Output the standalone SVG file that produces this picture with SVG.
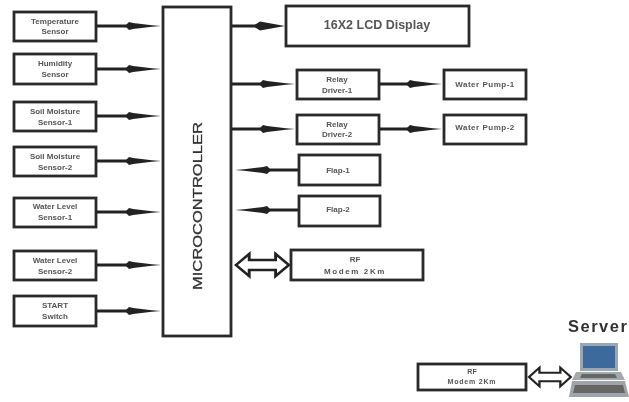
<svg xmlns="http://www.w3.org/2000/svg" width="629" height="402" viewBox="0 0 629 402">
<style>
.b{fill:#fff;stroke:#2a2a2a;stroke-width:2.8}
.t{font-family:"Liberation Sans",Arial,sans-serif;font-size:8px;font-weight:bold;fill:#555;text-anchor:middle}
.l{stroke:#222;stroke-width:3;fill:none}
.h{fill:#222;stroke:none}
.d{fill:#fff;stroke:#222;stroke-width:2.400}
</style>
<defs>
<filter id="s" x="-5%" y="-5%" width="110%" height="110%"><feGaussianBlur stdDeviation="0.55"/></filter>
<path id="ar" class="h" d="M-9 0L-5-4L-1-3L18-.8L27 0L18 .8L-1 3L-5 4Z"/>
<path id="ma" d="M0 0L11-11V-5H33V-11L44 0L33 11V5H11V11Z"/>
</defs>
<rect width="629" height="402" fill="#fff"/>
<g filter="url(#s)">
<g id="connectors">
<path class="l" d="M96 26H135M96 69H135M96 116H135M96 161H135M96 212H135M96 265H135M96 311H135M231 26H262M231 84H262M231 129H262M379 84H415M379 129H415M299 170H262M299 210H262"/>
<use href="#ar" x="134" y="26"/><use href="#ar" x="134" y="69"/><use href="#ar" x="134" y="116"/><use href="#ar" x="134" y="161"/><use href="#ar" x="134" y="212"/><use href="#ar" x="134" y="265"/><use href="#ar" x="134" y="311"/>
<path class="h" d="M253 26L260 21.500L285 26L260 30.500Z"/>
<use href="#ar" x="268" y="84"/><use href="#ar" x="268" y="129"/><use href="#ar" x="415" y="84"/><use href="#ar" x="415" y="129"/>
<use href="#ar" transform="translate(262 170) scale(-1 1)"/><use href="#ar" transform="translate(262 210) scale(-1 1)"/>
<use href="#ma" class="d" transform="translate(236 265) scale(1.2 1)"/>
<use href="#ma" class="d" transform="translate(529 377) scale(.95 .85)"/>
</g>
<g id="temperature"><rect class="b" x="14" y="12" width="82" height="29"/><text class="t" x="55" y="24">Temperature</text><text class="t" x="55" y="34">Sensor</text></g>
<g id="humidity"><rect class="b" x="14" y="54" width="82" height="30"/><text class="t" x="55" y="66">Humidity</text><text class="t" x="55" y="77">Sensor</text></g>
<g id="soil1"><rect class="b" x="14" y="102" width="82" height="29"/><text class="t" x="55" y="114">Soil Moisture</text><text class="t" x="55" y="125">Sensor-1</text></g>
<g id="soil2"><rect class="b" x="14" y="147" width="82" height="29"/><text class="t" x="55" y="159">Soil Moisture</text><text class="t" x="55" y="170">Sensor-2</text></g>
<g id="level1"><rect class="b" x="14" y="198" width="82" height="29"/><text class="t" x="55" y="209">Water Level</text><text class="t" x="55" y="220">Sensor-1</text></g>
<g id="level2"><rect class="b" x="14" y="251" width="82" height="29"/><text class="t" x="55" y="263">Water Level</text><text class="t" x="55" y="274">Sensor-2</text></g>
<g id="start"><rect class="b" x="14" y="296" width="82" height="30"/><text class="t" x="55" y="308">START</text><text class="t" x="55" y="319">Switch</text></g>
<g id="mcu"><rect class="b" x="163" y="7" width="68" height="329"/><text transform="translate(198 206) rotate(-90)" font-family="Liberation Sans,Arial,sans-serif" font-size="13.500" fill="#333" stroke="#333" stroke-width=".3" text-anchor="middle" textLength="168" lengthAdjust="spacingAndGlyphs" dy="4">MICROCONTROLLER</text></g>
<g id="lcd"><rect class="b" x="286" y="6" width="183" height="40"/><text class="t" x="377" y="29" style="font-size:12.500px">16X2 LCD Display</text></g>
<g id="relay1"><rect class="b" x="297" y="70" width="82" height="29"/><text class="t" x="337" y="82">Relay</text><text class="t" x="337" y="93">Driver-1</text></g>
<g id="relay2"><rect class="b" x="297" y="115" width="82" height="29"/><text class="t" x="337" y="127">Relay</text><text class="t" x="337" y="137">Driver-2</text></g>
<g id="pump1"><rect class="b" x="444" y="70" width="82" height="29"/><text class="t" x="485" y="87" style="letter-spacing:.5px">Water Pump-1</text></g>
<g id="pump2"><rect class="b" x="444" y="115" width="82" height="29"/><text class="t" x="485" y="130" style="letter-spacing:.5px">Water Pump-2</text></g>
<g id="flap1"><rect class="b" x="299" y="155" width="81" height="30"/><text class="t" x="338" y="173">Flap-1</text></g>
<g id="flap2"><rect class="b" x="299" y="196" width="81" height="30"/><text class="t" x="338" y="212">Flap-2</text></g>
<g id="rf"><rect class="b" x="291" y="250" width="132" height="30"/><text class="t" x="355" y="262">RF</text><text class="t" x="355" y="274" style="letter-spacing:1.600px">Modem 2Km</text></g>
<g id="rf2"><rect class="b" x="418" y="364" width="108" height="26"/><text class="t" x="472" y="374" style="font-size:7px">RF</text><text class="t" x="472" y="384" style="font-size:7px;letter-spacing:.8px">Modem 2Km</text></g>
<g id="server">
<text x="568" y="332" font-family="Liberation Sans,Arial,sans-serif" font-size="16.500" font-weight="bold" fill="#333" letter-spacing="1.500">Server</text>
<path fill="#9aa6b0" d="M580 343H618V371H580Z"/><rect x="583" y="346" width="32" height="22" fill="#3c6a9c"/>
<path fill="#a4a9ad" d="M576 372H621L625 380H572Z"/>
<path fill="#666" d="M582 374H615L617 378H580Z"/>
<path fill="#a0a4a8" d="M572 381H625L629 397H569Z"/><path fill="#666" d="M575 385H623L625 393H573Z"/>
</g>
</g>
</svg>
